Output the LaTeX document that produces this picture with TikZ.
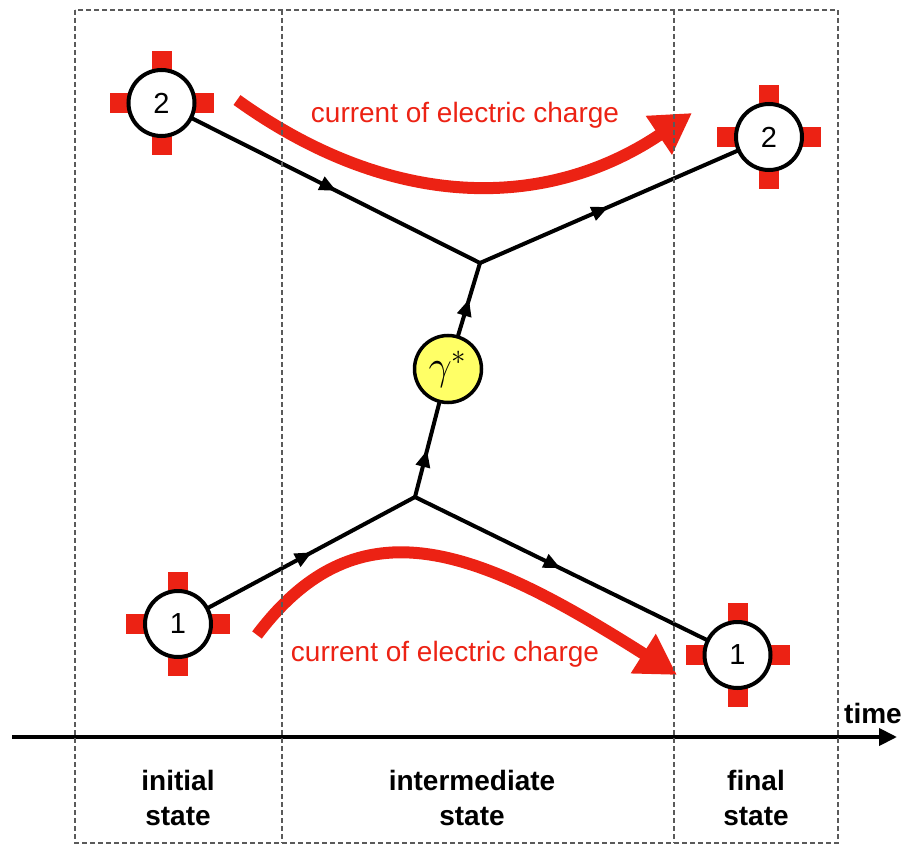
\documentclass[tikz,border=0pt]{standalone}
\usepackage{fontspec}
\setmainfont{Liberation Sans}
\usetikzlibrary{arrows.meta,decorations.markings}
\definecolor{chargered}{RGB}{236,34,20}
\definecolor{photonyellow}{RGB}{255,255,102}
\definecolor{framegray}{RGB}{90,90,90}
\tikzset{
  particle/.style={circle, draw, line width=4pt, fill=white, minimum size=66pt, inner sep=0pt, font=\fontsize{29}{30}\selectfont},
  photonnode/.style={circle, draw, line width=3.5pt, fill=photonyellow, minimum size=67pt, inner sep=0pt},
  fermion/.style={line width=4pt, line cap=round, postaction={decorate},
    decoration={markings, mark=at position 0.5 with {\arrow{Triangle[length=17pt,width=14pt]}}}},
  current/.style={line width=12pt, draw=chargered, -{Triangle[length=40pt,width=44pt]}, fill=none},
  currentlabel/.style={text=chargered, font=\fontsize{28}{30}\selectfont, anchor=base},
  framestyle/.style={draw=framegray, line width=1.4pt, dash pattern=on 5pt off 3pt},
  axisstyle/.style={line width=4pt, -{Triangle[length=18pt,width=17pt]}},
  statelabel/.style={font=\bfseries\fontsize{28}{35}\selectfont, align=center},
  charge/.pic={
    \foreach \a in {0,90,180,270}{
      \fill[chargered, rotate=\a] (31,-10) rectangle (52,10);
    }
    \node[particle] (-c) at (0,0) {#1};
  }
}
\begin{document}
\begin{tikzpicture}[x=1pt,y=-1pt]
\useasboundingbox (0,0) rectangle (905,848);

% red currents
\coordinate (cu0) at (237,100);
\coordinate (cu1) at (692,113);
\draw[current] (cu0) .. controls (390,210) and (545,212) .. (cu1);
\coordinate (cl0) at (257,635);
\coordinate (cl1) at (677,675);
\draw[current] (cl0) .. controls (360,498) and (480,550) .. (cl1);
\node[currentlabel] (tu) at (465,123) {current of electric charge};
\node[currentlabel] (tl) at (445,661) {current of electric charge};

% particles
\pic (a) at (161.5,103) {charge=2};
\pic (b) at (769,137) {charge=2};
\pic (c) at (178,624) {charge=1};
\pic (d) at (737.5,655) {charge=1};
\node[photonnode] (g) at (448,369) {\scalebox{2.0}{\fontsize{20.74}{22}\selectfont$\gamma^{*}$}};
\coordinate (v1) at (480,263);
\coordinate (v2) at (415,497);

\draw[fermion] (a-c) -- (v1);
\draw[fermion] (v1) -- (b-c);
\draw[fermion] (c-c) -- (v2);
\draw[fermion] (v2) -- (d-c);
\draw[fermion] (v2) -- (g);
\draw[fermion] (g) -- (v1);

% time axis
\coordinate (t0) at (12,737);
\coordinate (t1) at (897,737);
\draw[axisstyle] (t0) -- (t1);
\node[font=\bfseries\fontsize{28}{30}\selectfont] (time) at (873,713) {time};

% frame
\draw[framestyle] (75,10) rectangle (838,843);
\draw[framestyle] (282,10) -- (282,843);
\draw[framestyle] (674,10) -- (674,843);

% state labels
\node[statelabel] (s1) at (178,798) {initial\\state};
\node[statelabel] (s2) at (472,798) {intermediate\\state};
\node[statelabel] (s3) at (756,798) {final\\state};
\end{tikzpicture}
\end{document}
